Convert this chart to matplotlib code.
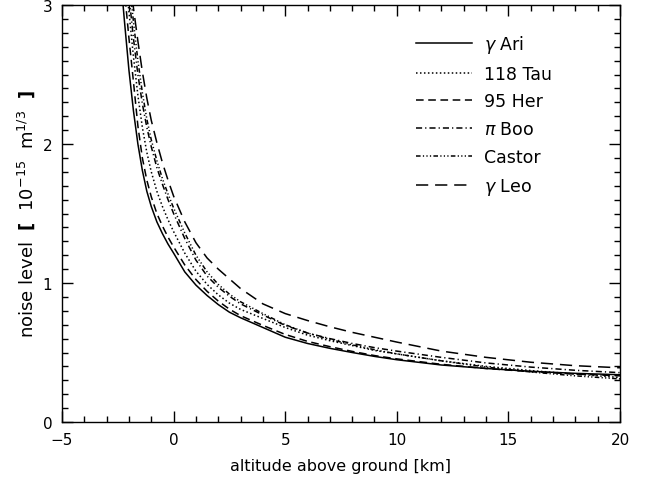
"""Noise level vs altitude above ground for six reference stars."""

import matplotlib

matplotlib.use("Agg")
import matplotlib.pyplot as plt

# altitude above ground [km], shared by all curves
altitude = [-2.4, -2.2, -2.0, -1.8, -1.6, -1.4, -1.2, -1.0, -0.75, -0.5, -0.25, 0.0,
            0.5, 1.0, 1.5, 2.0, 2.5, 3.0, 4.0, 5.0, 6.0, 7.0, 8.0, 9.0, 10.0,
            12.0, 14.0, 16.0, 18.0, 20.0]

# noise level [1e-15 m^1/3]
gam_ari = [3.25, 2.88, 2.53, 2.24, 2.0, 1.81, 1.66, 1.55, 1.44, 1.355, 1.28, 1.215,
           1.08, 0.985, 0.91, 0.845, 0.79, 0.75, 0.68, 0.61, 0.565, 0.53, 0.50, 0.472, 0.448,
           0.41, 0.385, 0.365, 0.35, 0.34]
tau_118 = [3.65, 3.3, 2.95, 2.63, 2.35, 2.12, 1.94, 1.80, 1.66, 1.55, 1.455, 1.37,
           1.215, 1.085, 0.99, 0.915, 0.855, 0.81, 0.745, 0.68, 0.625, 0.585, 0.55, 0.515, 0.49,
           0.44, 0.40, 0.37, 0.345, 0.32]
her_95 = [3.45, 3.1, 2.76, 2.45, 2.13, 1.90, 1.74, 1.62, 1.50, 1.41, 1.33, 1.26,
          1.13, 1.025, 0.94, 0.87, 0.812, 0.765, 0.695, 0.63, 0.58, 0.542, 0.508, 0.478, 0.454,
          0.415, 0.385, 0.362, 0.345, 0.332]
pi_boo = [3.9, 3.45, 3.07, 2.76, 2.50, 2.29, 2.12, 1.98, 1.83, 1.71, 1.60, 1.50,
          1.32, 1.165, 1.05, 0.97, 0.905, 0.85, 0.77, 0.695, 0.64, 0.60, 0.565, 0.535, 0.51,
          0.465, 0.425, 0.395, 0.372, 0.355]
castor = [4.0, 3.6, 3.2, 2.88, 2.60, 2.37, 2.18, 2.03, 1.88, 1.75, 1.64, 1.54,
          1.36, 1.20, 1.08, 0.99, 0.92, 0.865, 0.78, 0.70, 0.64, 0.595, 0.555, 0.52, 0.49,
          0.44, 0.395, 0.36, 0.332, 0.31]
gam_leo = [4.3, 3.8, 3.35, 2.98, 2.74, 2.52, 2.33, 2.17, 2.01, 1.865, 1.74, 1.625,
           1.44, 1.29, 1.18, 1.10, 1.03, 0.96, 0.85, 0.78, 0.73, 0.685, 0.645, 0.61, 0.575,
           0.51, 0.465, 0.43, 0.405, 0.39]

labels = [r"$\gamma$ Ari", "118 Tau", "95 Her", r"$\pi$ Boo", "Castor", r"$\gamma$ Leo"]

x_ticks = [-5, 0, 5, 10, 15, 20]
y_ticks = [0, 1, 2, 3]


def main() -> None:
    plt.rcParams["font.family"] = ["DejaVu Sans"]
    plt.rcParams["mathtext.fontset"] = "dejavusans"

    fig = plt.figure(figsize=(6.58, 4.81), dpi=100)
    ax = fig.add_axes([62 / 658, 58 / 481, 558 / 658, 417 / 481])

    series = [gam_ari, tau_118, her_95, pi_boo, castor, gam_leo]
    dashes = [
        None,
        (1.0, 1.6),
        (5.0, 3.0),
        (4.0, 2.0, 0.8, 2.0),
        (3.0, 1.5, 0.8, 1.5, 0.8, 1.5, 0.8, 1.5),
        (8.0, 4.5),
    ]
    for values, label, dash in zip(series, labels, dashes):
        (line,) = ax.plot(altitude, values, color="black", linewidth=1.1, label=label)
        if dash is not None:
            line.set_dashes(dash)

    ax.set_xlim(-5, 20)
    ax.set_ylim(0, 3)
    ax.set_xticks(x_ticks)
    ax.set_yticks(y_ticks)
    ax.set_xticks([v for v in range(-5, 21)], minor=True)
    ax.set_yticks([v / 10 for v in range(0, 31)], minor=True)
    ax.set_xticklabels(["\u22125", "0", "5", "10", "15", "20"])
    ax.tick_params(which="both", direction="in", top=True, right=True, labelsize=11, pad=7)
    ax.tick_params(which="major", length=8, width=1)
    ax.tick_params(which="minor", length=4, width=1)
    for spine in ax.spines.values():
        spine.set_linewidth(1)

    ax.set_xlabel("altitude above ground [km]", fontsize=11.5, labelpad=8)
    ax.set_ylabel(r"noise level  $\mathbf{[}$  10$^{-15}$  m$^{1/3}$  $\mathbf{]}$",
                  fontsize=13, labelpad=4)

    ax.legend(
        loc="upper left",
        bbox_to_anchor=(416 / 658, 1 - 34 / 481),
        bbox_transform=fig.transFigure,
        frameon=False,
        fontsize=12.5,
        handlelength=3.2,
        handletextpad=0.7,
        labelspacing=0.56,
        borderpad=0,
        borderaxespad=0,
    )

    fig.savefig("out.png", dpi=100)
    plt.close(fig)


if __name__ == "__main__":
    main()
